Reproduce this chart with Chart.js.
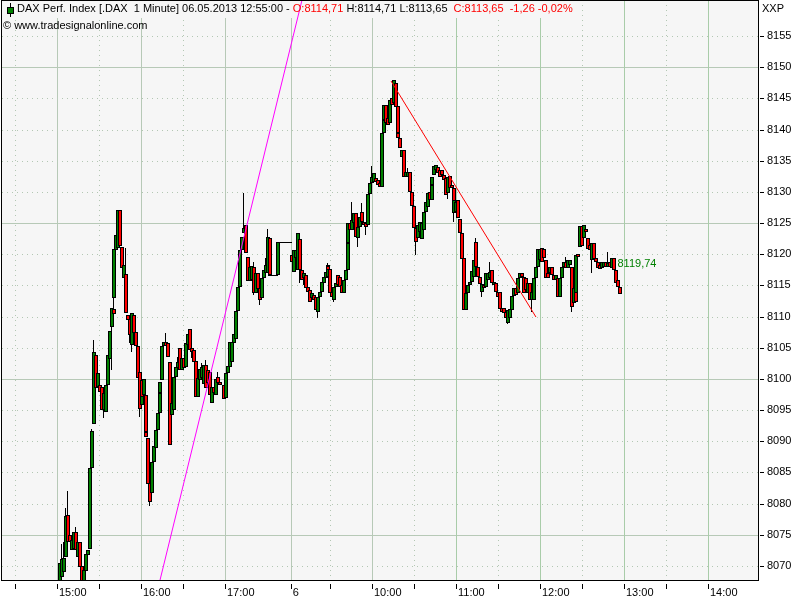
<!DOCTYPE html>
<html><head><meta charset="utf-8">
<style>html,body{margin:0;padding:0;background:#fff}canvas{display:block}</style>
<script src="https://cdn.jsdelivr.net/npm/chart.js@4/dist/chart.umd.min.js"></script>
</head><body><canvas id="c" width="800" height="600"></canvas>
<script>
// minutes after 15:00 on the compressed session axis
const minutes = [1,2,4,6,7,8,9,11,12,14,
15,16,19,20,21,23,24,25,26,28,
29,30,32,33,34,36,37,38,39,41,
42,43,45,46,47,48,50,51,52,53,
55,56,57,58,59,60,61,62,64,65,
66,68,69,70,71,72,74,75,76,78,
79,80,81,83,85,86,87,89,90,92,
94,95,97,99,100,101,103,104,106,107,
109,110,112,113,114,116,118,119,120,122,
123,125,126,129,130,131,132,134,135,136,
137,139,140,142,143,144,145,147,149,151,
152,153,154,155,156,157,158,159,160,161,
162,163,164,165,166,167,169,170,171,172,
174,175,176,178,179,180,182,183,185,186,
187,188,190,191,192,193,194,196,197,198,
200,201,203,204,205,206,207,208,210,211,
213,215,216,217,219,221,222,223,224,226,
228,229,230,231,232,233,235,236,237,238,
240,241,242,243,245,246,247,249,250,252,
253,254,256,257,259,260,261,263,264,265,
266,268,269,270,272,273,274,275,277,278,
280,281,282,284,285,287,288,289,291,292,
294,295,297,298,300,301,302,304,305,307,
308,310,311,312,313,315,317,318,320,321,
322,323,325,326,328,329,331,332,333,334,
335,337,339,340,341,343,344,346,347,349,
350,351,353,354,356,357,359,360,361,363,
364,365,367,368,369,371,372,374,375,376,
378,379,380,381,383,384,386,387,388,390,
391,393,395,396,397,398,400];
const opens = [8066.2,8068.2,8069.0,8071.4,8078.2,8075.0,8072.6,8072.7,8075.5,8071.4,
8073.9,8070.0,8066.2,8069.2,8071.8,8072.7,8085.7,8092.8,8103.9,8098.7,
8099.0,8098.7,8095.0,8094.7,8099.0,8103.2,8108.3,8111.2,8113.0,8120.7,
8121.0,8127.1,8121.2,8116.2,8116.8,8110.3,8109.6,8107.1,8105.5,8110.3,
8107.5,8105.3,8101.1,8095.8,8099.8,8097.4,8097.4,8091.5,8090.5,8083.3,
8081.7,8086.7,8088.9,8091.8,8094.6,8097.8,8099.8,8105.3,8106.0,8105.8,
8102.7,8094.2,8095.0,8100.3,8101.8,8105.0,8101.5,8103.4,8101.9,8105.5,
8108.0,8105.0,8104.7,8102.9,8097.1,8099.8,8100.2,8099.2,8102.3,8101.5,
8101.1,8096.2,8098.7,8097.4,8100.3,8099.5,8099.0,8097.0,8101.0,8101.9,
8102.7,8105.8,8106.4,8110.9,8114.8,8120.7,8123.4,8124.7,8119.6,8115.7,
8115.9,8118.0,8113.8,8117.0,8114.6,8113.0,8116.2,8117.0,8117.0,8122.6,
8116.7,8116.7,8116.7,8116.7,8116.7,8122.0,8122.0,8122.0,8122.0,8122.0,
8122.0,8122.0,8122.0,8122.0,8122.0,8119.9,8117.2,8119.4,8117.5,8122.5,
8117.5,8116.2,8116.7,8114.8,8114.3,8113.0,8113.5,8113.2,8110.8,8113.2,
8114.0,8115.4,8116.2,8116.4,8118.1,8117.7,8114.0,8112.7,8114.8,8116.7,
8116.4,8115.1,8113.8,8115.9,8117.5,8121.8,8125.0,8123.9,8125.0,8126.6,
8122.6,8124.4,8126.8,8125.2,8125.0,8124.7,8129.7,8131.4,8131.6,8132.2,
8131.9,8131.4,8130.8,8139.5,8141.6,8144.0,8141.9,8141.1,8145.1,8144.3,
8147.5,8143.8,8139.5,8138.7,8135.6,8136.7,8132.4,8132.4,8133.2,8130.0,
8127.8,8124.2,8122.6,8123.6,8122.5,8123.9,8126.8,8127.6,8130.0,8128.7,
8131.1,8132.7,8133.5,8134.0,8133.5,8133.5,8132.7,8132.2,8129.8,8132.6,
8131.1,8130.6,8126.6,8126.8,8128.7,8125.7,8123.4,8119.4,8111.1,8113.8,
8115.1,8115.6,8116.4,8122.0,8118.0,8116.4,8114.0,8115.1,8114.8,8115.9,
8116.2,8117.5,8115.1,8115.4,8114.0,8114.0,8111.4,8111.4,8110.8,8109.0,
8109.8,8111.1,8113.3,8114.6,8113.8,8116.2,8117.0,8116.4,8116.2,8113.8,
8115.4,8112.7,8112.7,8116.2,8118.0,8119.1,8121.0,8120.9,8119.1,8117.0,
8117.0,8118.0,8116.7,8115.9,8116.2,8113.2,8116.2,8118.0,8118.8,8117.8,
8118.3,8118.0,8112.2,8115.1,8113.8,8120.1,8121.2,8124.5,8122.6,8124.1,
8122.6,8121.5,8119.1,8121.8,8119.4,8118.8,8118.3,8117.8,8118.0,8118.8,
8118.0,8118.8,8117.8,8119.4,8117.5,8115.9,8114.7];
const highs = [8070.5,8073.5,8073.9,8079.3,8082.0,8075.0,8074.2,8075.5,8076.3,8073.9,
8073.9,8070.0,8069.4,8071.9,8072.6,8085.7,8092.0,8106.3,8103.9,8101.0,
8099.0,8098.7,8097.8,8099.0,8103.9,8107.7,8111.4,8115.6,8120.9,8123.1,
8127.1,8127.1,8121.2,8118.3,8121.0,8110.3,8109.6,8107.1,8110.6,8110.3,
8107.5,8105.3,8101.1,8099.5,8099.8,8100.0,8097.4,8091.5,8090.5,8083.3,
8086.7,8089.3,8091.8,8094.6,8097.8,8099.5,8105.3,8106.0,8107.4,8105.8,
8102.7,8096.2,8100.3,8101.9,8103.5,8105.0,8103.4,8103.4,8105.8,8107.2,
8108.0,8105.0,8104.7,8102.9,8100.2,8101.6,8102.6,8102.3,8103.1,8101.5,
8101.1,8098.7,8098.7,8100.0,8101.1,8099.5,8099.0,8101.0,8102.1,8106.0,
8106.0,8107.2,8110.9,8114.8,8120.7,8122.8,8129.8,8124.7,8119.6,8118.0,
8118.1,8118.8,8117.0,8117.0,8114.6,8116.2,8117.5,8119.4,8124.1,8122.6,
8116.7,8116.7,8116.7,8116.7,8122.0,8122.0,8122.0,8122.0,8122.0,8122.0,
8122.0,8122.0,8122.0,8122.0,8122.0,8119.9,8120.7,8120.7,8123.4,8122.5,
8117.5,8117.0,8116.7,8114.8,8114.3,8113.8,8113.5,8113.2,8113.2,8114.0,
8115.6,8116.4,8117.2,8118.6,8118.1,8117.7,8114.0,8114.8,8115.4,8116.7,
8116.4,8115.1,8115.9,8117.5,8121.8,8125.0,8125.0,8128.4,8126.6,8126.6,
8124.4,8126.0,8128.2,8125.2,8125.0,8129.7,8131.4,8134.2,8133.0,8132.2,
8131.9,8131.4,8139.5,8141.6,8144.0,8144.0,8141.9,8144.8,8145.1,8148.0,
8147.5,8143.8,8139.5,8138.7,8136.7,8136.7,8133.2,8133.9,8133.2,8130.0,
8127.8,8124.2,8124.7,8125.2,8125.0,8126.8,8128.4,8129.8,8130.0,8131.1,
8132.4,8134.2,8134.3,8134.0,8133.5,8133.5,8132.7,8132.2,8132.4,8132.6,
8131.1,8130.6,8128.7,8128.4,8128.7,8125.7,8123.4,8119.4,8113.8,8115.1,
8115.6,8117.3,8119.1,8122.6,8118.0,8116.4,8115.2,8115.1,8117.0,8117.0,
8118.8,8117.5,8115.6,8115.4,8114.0,8114.0,8111.4,8111.4,8110.8,8111.1,
8111.2,8113.3,8114.6,8114.6,8116.2,8117.0,8117.0,8116.4,8116.2,8115.4,
8115.4,8114.0,8116.2,8118.0,8120.9,8120.9,8121.0,8120.9,8119.1,8117.0,
8118.0,8118.0,8116.7,8116.7,8116.2,8116.2,8118.0,8118.8,8119.6,8119.1,
8119.1,8118.0,8114.6,8115.1,8119.9,8120.1,8124.5,8124.5,8124.7,8124.1,
8122.6,8121.5,8121.8,8121.8,8119.4,8118.8,8118.3,8118.8,8118.8,8118.8,
8120.4,8118.8,8119.4,8119.4,8117.5,8115.9,8114.7];
const lows = [8066.2,8068.2,8069.0,8071.4,8073.9,8073.9,8072.6,8072.7,8072.6,8071.4,
8069.9,8066.2,8066.2,8069.2,8071.8,8072.7,8085.7,8092.8,8098.6,8098.7,
8097.9,8095.0,8093.8,8094.7,8099.0,8103.2,8101.5,8110.4,8113.0,8120.7,
8121.0,8121.3,8117.8,8116.2,8110.6,8109.5,8105.8,8104.3,8105.5,8107.4,
8105.3,8100.2,8093.9,8095.8,8097.1,8097.4,8091.5,8090.7,8083.2,8079.6,
8081.7,8086.7,8088.9,8091.8,8094.6,8097.8,8099.8,8105.3,8105.3,8103.5,
8089.4,8094.2,8095.0,8100.3,8101.8,8101.5,8101.5,8101.8,8101.9,8105.5,
8104.7,8103.4,8102.7,8097.1,8097.1,8099.8,8100.2,8099.2,8098.6,8099.4,
8097.4,8096.2,8097.8,8097.4,8099.4,8099.0,8096.8,8097.0,8101.0,8101.9,
8102.7,8105.8,8106.4,8110.9,8114.8,8120.7,8123.4,8120.2,8115.7,8115.7,
8115.9,8113.5,8113.8,8114.4,8111.9,8113.0,8116.2,8117.0,8117.0,8116.7,
8116.5,8116.5,8116.5,8116.5,8116.7,8121.8,8121.8,8121.8,8121.8,8121.8,
8121.8,8121.8,8121.8,8121.8,8121.8,8118.8,8117.2,8119.4,8117.5,8115.4,
8115.9,8115.1,8114.6,8114.0,8112.4,8113.0,8112.7,8111.1,8109.8,8113.2,
8114.0,8115.4,8116.2,8116.4,8117.5,8113.8,8113.2,8112.4,8114.8,8115.1,
8114.8,8113.8,8113.8,8115.9,8117.5,8121.8,8123.9,8123.9,8125.0,8122.8,
8121.2,8124.4,8125.2,8124.7,8123.1,8124.7,8129.7,8131.4,8131.6,8131.6,
8131.1,8130.8,8130.8,8139.5,8141.6,8141.1,8140.8,8141.1,8144.0,8144.3,
8143.6,8139.5,8138.7,8137.1,8135.6,8132.4,8132.4,8132.4,8130.0,8127.8,
8124.2,8119.9,8122.6,8123.6,8122.5,8123.9,8126.8,8127.6,8128.7,8128.7,
8131.1,8132.7,8133.5,8133.0,8132.4,8132.7,8131.9,8129.5,8128.9,8130.6,
8130.6,8128.4,8125.2,8126.8,8125.8,8123.4,8119.3,8111.1,8111.1,8113.8,
8115.1,8115.6,8116.4,8118.0,8116.4,8115.2,8113.2,8114.6,8114.8,8115.9,
8116.2,8115.4,8115.1,8114.0,8113.2,8111.2,8110.8,8110.6,8109.8,8108.8,
8109.8,8111.1,8113.3,8113.5,8113.8,8116.2,8116.4,8113.8,8114.3,8113.8,
8112.7,8110.8,8112.7,8116.2,8118.0,8119.1,8118.8,8119.4,8116.2,8116.2,
8117.0,8116.7,8115.9,8115.9,8113.2,8113.2,8116.2,8118.0,8117.8,8117.8,
8118.3,8110.8,8112.2,8112.4,8113.8,8119.6,8121.2,8121.3,8122.6,8123.6,
8120.9,8120.7,8117.0,8119.3,8118.8,8117.8,8117.7,8117.8,8118.0,8118.0,
8118.0,8118.0,8117.8,8117.5,8115.4,8114.8,8113.65];
const closes = [8070.5,8071.1,8071.3,8078.0,8073.9,8073.9,8074.2,8075.5,8072.6,8073.9,
8069.9,8066.2,8069.4,8071.9,8072.6,8085.7,8091.7,8104.3,8098.6,8101.0,
8097.9,8095.0,8097.8,8099.0,8103.9,8107.7,8111.4,8110.4,8120.9,8123.1,
8127.1,8121.3,8117.8,8118.3,8110.6,8109.5,8107.1,8105.5,8110.6,8107.4,
8105.3,8100.2,8095.2,8099.5,8097.1,8100.0,8091.5,8090.7,8083.2,8080.3,
8086.7,8089.3,8091.8,8094.6,8097.8,8099.5,8105.3,8106.0,8105.3,8103.5,
8089.4,8096.2,8100.3,8101.9,8102.7,8101.5,8103.4,8101.8,8105.8,8107.2,
8104.7,8104.3,8102.7,8097.1,8100.2,8101.6,8101.9,8102.3,8098.6,8099.4,
8097.4,8098.7,8097.8,8100.0,8099.4,8099.0,8096.8,8101.0,8102.1,8106.0,
8106.0,8107.2,8110.9,8114.8,8120.7,8122.8,8124.2,8120.2,8115.7,8118.0,
8118.1,8113.8,8117.0,8114.4,8112.7,8116.2,8117.5,8118.3,8122.8,8116.7,
8116.5,8116.5,8116.5,8116.5,8122.0,8121.8,8121.8,8121.8,8121.8,8121.8,
8121.8,8121.8,8121.8,8121.8,8121.8,8118.8,8120.7,8120.7,8123.4,8117.5,
8115.9,8117.0,8114.6,8114.0,8112.4,8113.8,8112.7,8111.1,8113.2,8114.0,
8115.6,8116.4,8117.2,8118.3,8117.5,8113.8,8113.2,8114.8,8115.4,8115.1,
8114.8,8113.8,8115.9,8117.5,8121.8,8125.0,8123.9,8125.5,8126.6,8122.8,
8124.4,8126.0,8125.2,8124.7,8124.4,8129.7,8131.4,8132.4,8133.0,8131.6,
8131.1,8130.8,8139.5,8141.6,8144.0,8141.1,8140.8,8144.8,8144.0,8148.0,
8143.6,8139.5,8138.7,8137.1,8136.7,8132.4,8133.2,8133.2,8130.0,8127.8,
8124.2,8122.0,8124.7,8125.2,8125.0,8126.8,8128.4,8129.8,8128.7,8131.1,
8132.4,8134.2,8134.3,8133.0,8132.4,8132.7,8131.9,8129.5,8132.4,8130.6,
8130.6,8128.4,8128.7,8128.4,8125.8,8123.4,8119.3,8111.1,8113.8,8115.1,
8115.6,8117.3,8119.1,8118.0,8116.4,8115.2,8115.2,8114.6,8117.0,8117.0,
8117.2,8115.4,8115.6,8114.0,8113.2,8111.2,8110.8,8110.6,8109.8,8111.1,
8111.2,8113.3,8114.6,8113.5,8116.2,8117.0,8116.4,8113.8,8114.3,8115.4,
8112.7,8114.0,8116.2,8118.0,8120.9,8120.9,8118.8,8119.4,8116.2,8116.2,
8118.0,8116.7,8115.9,8116.7,8113.2,8116.2,8118.0,8118.8,8117.8,8119.1,
8119.1,8111.6,8114.6,8112.4,8119.9,8119.6,8124.5,8121.3,8124.7,8123.6,
8120.9,8120.7,8121.8,8119.3,8118.8,8117.8,8117.7,8118.8,8118.8,8118.0,
8118.6,8118.0,8119.4,8117.5,8115.4,8114.8,8113.65];

const magentaLine = [{x:73.6, y:8067.76},{x:175, y:8160.77}];
const redLine = [{x:238.6, y:8147.8},{x:342.1, y:8109.95}];

const priceTicks = [8070,8075,8080,8085,8090,8095,8100,8105,8110,8115,8120,8125,8130,8135,8140,8145,8150,8155];
const priceMajor = [8075,8100,8125,8150];
const timeTicks = [-30,0,30,60,90,120,167,195,225,255,285,315,345,375,405,435,465];
const timeLabels = ['','15:00','','16:00','','17:00','6','','10:00','','11:00','','12:00','','13:00','','14:00'];
const timeMajor = [0,60,120,167,225,285,345,405,465];

const titleParts = [
  ['DAX Perf. Index [.DAX  1 Minute] 06.05.2013 12:55:00 - ','#000'],
  ['O:8114,71','#f00'],
  [' H:8114,71 L:8113,65 ','#000'],
  [' C:8113,65  -1,26 -0,02%','#f00']
];
const copyrightText = '\u00A9 www.tradesignalonline.com';
const lastValueText = '8119,74';
const lastValueAt = {x:400, y:8118.4};
const axisName = 'XXP';

const FONT = '11px "Liberation Sans"';
const PLOT_BG = '#f6f6f6', MAJOR = '#b7c9b7', MAJOR_LATE = '#a9cca9', MINOR = '#b3c7b3';
const GREEN = '#008000', RED = '#ff0000';

// Candles sit on a 2-pixel column pitch (10/7 minute), as the source chart does.
const COLUMN = 10/7;
const columnMinutes = [];
(function(){
  let prev = -1;
  minutes.forEach((m,i)=>{
    const flat = highs[i]-lows[i] < 0.3;
    const r = Math.round(m/COLUMN);
    let s = r;
    if(!flat && s <= prev) s = Math.min(prev+1, r+1);
    prev = s;
    columnMinutes.push(s*COLUMN);
  });
})();

const crisp = {
  id:'crisp',
  afterLayout(chart){
    const sy = chart.scales.y;
    if(!sy.__p){ const f = sy.getPixelForValue.bind(sy); sy.getPixelForValue = v => Math.round(f(v)); sy.__p = 1; }
  },
  afterDatasetsUpdate(chart){
    // snap the bar elements to whole pixel columns
    chart.data.datasets.forEach((d,di)=>{
      if(d.type !== 'bar') return;
      const els = chart.getDatasetMeta(di).data, thick = d.barThickness;
      els.forEach((el,i)=>{
        const col = Math.round(chart.scales.x.getPixelForValue(d.data[i].x));
        el.x = thick % 2 ? col + 0.5 : col + 1;
        el.width = thick;
      });
    });
  },
  beforeDatasetsDraw(chart){
    const c = chart.ctx, a = chart.chartArea, sx = chart.scales.x, sy = chart.scales.y;
    c.save();
    c.fillStyle = PLOT_BG; c.fillRect(a.left, a.top, a.right-a.left, a.bottom-a.top);
    c.lineWidth = 1;
    priceTicks.forEach(v=>{
      const y = sy.getPixelForValue(v)+0.5, maj = priceMajor.includes(v);
      c.strokeStyle = maj ? MAJOR : MINOR; c.setLineDash(maj ? [] : [1,4]);
      c.beginPath(); c.moveTo(a.left,y); c.lineTo(a.right,y); c.stroke();
    });
    timeTicks.forEach(v=>{
      const x = Math.round(sx.getPixelForValue(v))+0.5, maj = timeMajor.includes(v);
      c.strokeStyle = maj ? (v>=285 ? MAJOR_LATE : MAJOR) : MINOR; c.setLineDash(maj ? [] : [1,4]);
      c.beginPath(); c.moveTo(x,a.top); c.lineTo(x,a.bottom); c.stroke();
    });
    c.setLineDash([]);
    c.fillStyle = PLOT_BG; c.fillRect(a.left, a.top+1, 574-a.left, 17);
    c.restore();
  },
  afterDatasetsDraw(chart){
    const c = chart.ctx, a = chart.chartArea, sx = chart.scales.x, sy = chart.scales.y;
    c.save();
    c.fillStyle = '#000';
    c.fillRect(a.left-1, 0, a.right-a.left+2, 1);
    c.fillRect(a.left-1, 0, 1, a.bottom+1);
    c.fillRect(a.right, 0, 1, a.bottom+1);
    c.fillRect(a.left-1, a.bottom, a.right-a.left+2, 1);
    timeTicks.forEach(v=>{ c.fillRect(Math.round(sx.getPixelForValue(v)), 584, 1, 5); });
    priceTicks.forEach(v=>{ c.fillRect(760, sy.getPixelForValue(v), 4, 1); });
    c.fillRect(10,3,1,14);
    c.fillRect(7,7,7,7);
    c.fillStyle = GREEN; c.fillRect(8,8,5,5);
    c.font = FONT; c.textBaseline = 'middle'; c.textAlign = 'left';
    let x = 17;
    titleParts.forEach(p=>{ c.fillStyle = p[1]; c.fillText(p[0], x, 9); x += c.measureText(p[0]).width; });
    c.fillStyle = '#000';
    c.fillText(copyrightText, 3, 26);
    c.fillText(axisName, 762, 9);
    c.fillStyle = GREEN;
    c.fillText(lastValueText, sx.getPixelForValue(lastValueAt.x)+0.5, sy.getPixelForValue(lastValueAt.y));
    c.restore();
  }
};

new Chart(document.getElementById('c'),{
  type:'bar',
  data:{datasets:[
    {type:'line',data:magentaLine,borderColor:'#ff00ff',borderWidth:1,pointRadius:0,order:0,parsing:false,tension:0},
    {type:'line',data:redLine,borderColor:'#ff0000',borderWidth:1,pointRadius:0,order:0,parsing:false,tension:0},
    // candle bodies: black outline, coloured core
    {type:'bar',order:1,barThickness:4,grouped:false,borderColor:'#000',borderWidth:1,borderSkipped:false,inflateAmount:0,
      data:minutes.map((m,i)=>({x:columnMinutes[i],y:[opens[i],closes[i]]})),
      backgroundColor:minutes.map((m,i)=>closes[i]>=opens[i]?GREEN:RED)},
    // upper and lower wicks, which stop at the body
    {type:'bar',order:2,barThickness:1,grouped:false,borderWidth:0,inflateAmount:0,backgroundColor:'#000',
      data:minutes.map((m,i)=>({x:columnMinutes[i],y:[Math.max(opens[i],closes[i]),highs[i]]}))},
    {type:'bar',order:2,barThickness:1,grouped:false,borderWidth:0,inflateAmount:0,backgroundColor:'#000',
      data:minutes.map((m,i)=>({x:columnMinutes[i],y:[lows[i],Math.min(opens[i],closes[i])]}))}
  ]},
  options:{
    responsive:false,animation:false,events:[],
    layout:{padding:{left:2,top:0,right:0,bottom:0}},
    plugins:{legend:{display:false},tooltip:{enabled:false},title:{display:false}},
    scales:{
      x:{type:'linear',position:'bottom',offset:false,min:-39.29,max:500.71,
        afterBuildTicks(s){s.ticks=timeTicks.map(v=>({value:v}));},
        afterFit(s){s.height=20;s.paddingLeft=0;s.paddingRight=0;s.paddingTop=0;s.paddingBottom=0;},
        grid:{display:false,drawTicks:false,offset:false},border:{display:false},
        ticks:{autoSkip:false,maxRotation:0,minRotation:0,align:'start',labelOffset:2,padding:6,color:'#000',
          font:{family:'Liberation Sans',size:11},
          callback(v){const i=timeTicks.indexOf(v);return i<0?'':timeLabels[i];}}
      },
      y:{type:'linear',position:'right',min:8067.755,max:8160.774,
        afterBuildTicks(s){s.ticks=priceTicks.map(v=>({value:v}));},
        afterFit(s){s.width=42;s.paddingLeft=0;s.paddingRight=0;s.paddingTop=0;s.paddingBottom=0;},
        grid:{display:false,drawTicks:false},border:{display:false},
        ticks:{autoSkip:false,padding:9,color:'#000',font:{family:'Liberation Sans',size:11},
          callback(v){return String(v);}}
      }
    }
  },
  plugins:[crisp]
});
</script></body></html>
